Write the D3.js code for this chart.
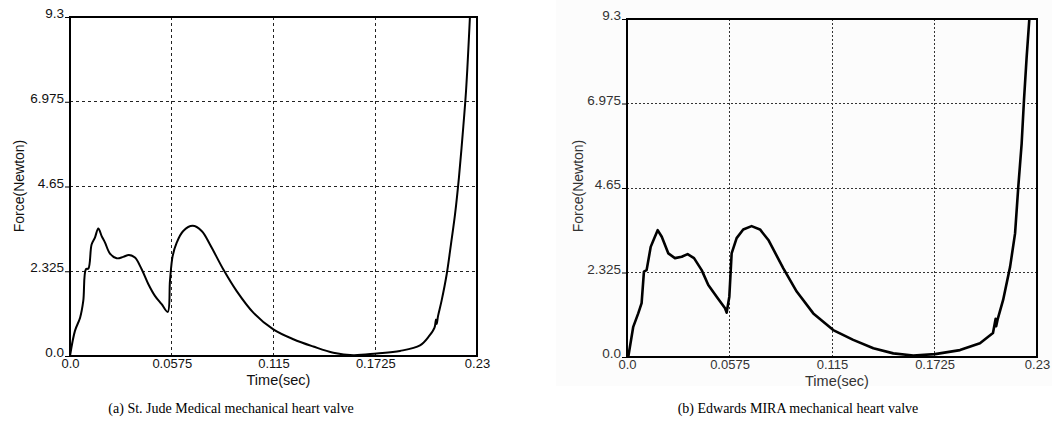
<!DOCTYPE html>
<html><head><meta charset="utf-8">
<script src="https://cdn.jsdelivr.net/npm/d3@7"></script>
<style>
html,body{margin:0;padding:0;background:#fff;}
svg{display:block;}
</style></head>
<body>
<svg id="c" width="1052" height="428"></svg>
<script>
const xTicks = [0, 0.0575, 0.115, 0.1725, 0.23];
const xTickLabels = ["0.0", "0.0575", "0.115", "0.1725", "0.23"];
const yTicks = [0, 2.325, 4.65, 6.975, 9.3];
const yTickLabels = ["0.0", "2.325", "4.65", "6.975", "9.3"];

const timeA = [0,0.0028,0.0057,0.0075,0.0090,0.0104,0.0122,0.0141,0.0160,0.0179,0.0198,0.0226,0.0264,0.0301,0.0333,0.0367,0.0405,0.0443,0.0480,0.0518,0.0552,0.0565,0.0580,0.0603,0.0640,0.0693,0.0744,0.0791,0.0866,0.0942,0.1036,0.1149,0.1262,0.1375,0.1488,0.1601,0.1733,0.1865,0.1978,0.2030,0.2060,0.2068,0.2072,0.2080,0.2100,0.2129,0.2153,0.2176,0.2198,0.2219,0.2238,0.2260];
const forceA = [0,0.69,1.05,1.51,2.38,2.40,3.06,3.25,3.50,3.29,3.11,2.81,2.68,2.72,2.77,2.70,2.38,1.97,1.65,1.42,1.21,2.06,2.74,3.11,3.43,3.57,3.43,3.06,2.38,1.78,1.19,0.73,0.46,0.26,0.09,0.02,0.07,0.14,0.29,0.55,0.78,1.00,0.88,1.10,1.52,2.25,3.07,3.89,4.90,6.08,7.27,9.30];

const timeB = [0.0007,0.0035,0.0063,0.0082,0.0095,0.0110,0.0133,0.0153,0.0172,0.0195,0.0232,0.0269,0.0307,0.0340,0.0376,0.0419,0.0456,0.0503,0.0550,0.0559,0.0574,0.0587,0.0615,0.0652,0.0699,0.0746,0.0793,0.0877,0.0952,0.1045,0.1157,0.1269,0.1382,0.1494,0.1606,0.1728,0.1868,0.1980,0.2053,0.2068,0.2071,0.2080,0.2110,0.2149,0.2177,0.2195,0.2214,0.2227,0.2242,0.2257];
const forceB = [0,0.83,1.20,1.48,2.35,2.39,3.03,3.27,3.49,3.31,2.85,2.72,2.76,2.83,2.72,2.39,1.98,1.66,1.34,1.22,1.66,2.85,3.27,3.51,3.60,3.51,3.22,2.44,1.80,1.20,0.74,0.47,0.24,0.10,0.04,0.08,0.19,0.38,0.66,1.05,0.85,1.05,1.57,2.48,3.40,4.68,5.88,7.07,8.26,9.30];

const captionA = "(a) St. Jude Medical mechanical heart valve";
const captionB = "(b) Edwards MIRA mechanical heart valve";

const svg = d3.select("#c");

// faint background of the right (scanned) panel
svg.append("rect").attr("x",556).attr("y",0).attr("width",496).attr("height",386).attr("fill","#fcfcfc");

function panel(cfg){
  const {x0,x1,y0,y1,time,force,grid,lw,labelColor,caption,capX,yLabX,id} = cfg;
  const x = d3.scaleLinear().domain([0,0.23]).range([x0,x1]);
  const y = d3.scaleLinear().domain([0,9.3]).range([y1,y0]);
  const g = svg.append("g");
  g.append("rect").attr("x",x0).attr("y",y0).attr("width",x1-x0).attr("height",y1-y0).attr("fill", cfg.bg);
  // grid
  g.selectAll(".hg").data(yTicks.slice(1,4)).join("line")
    .attr("x1",x0).attr("x2",x1).attr("y1",d=>y(d)).attr("y2",d=>y(d))
    .attr("stroke",cfg.gridColor).attr("stroke-width",1).attr("stroke-dasharray",grid).attr("shape-rendering","crispEdges");
  g.selectAll(".vg").data(xTicks.slice(1,4)).join("line")
    .attr("y1",y0).attr("y2",y1).attr("x1",d=>x(d)).attr("x2",d=>x(d))
    .attr("stroke",cfg.gridColor).attr("stroke-width",1).attr("stroke-dasharray",grid).attr("shape-rendering","crispEdges");
  // frame
  g.append("rect").attr("x",x0).attr("y",y0).attr("width",x1-x0).attr("height",y1-y0)
    .attr("fill","none").attr("stroke","#000").attr("stroke-width",1.2).attr("shape-rendering","crispEdges");
  // y axis ticks + labels
  const ya = d3.axisLeft(y).tickValues(yTicks).tickFormat((d,i)=>yTickLabels[i]).tickSize(5).tickPadding(1);
  const yg = g.append("g").attr("transform",`translate(${x0},0)`).call(ya);
  yg.select(".domain").remove();
  yg.selectAll("line").attr("stroke","#000");
  yg.selectAll("text").attr("font-family","Liberation Sans, Arial, sans-serif").attr("font-size","13.5px")
    .attr("fill",labelColor).attr("dy","0.05em");
  // x axis labels
  const xa = d3.axisBottom(x).tickValues(xTicks).tickFormat((d,i)=>xTickLabels[i]).tickSize(0).tickPadding(3);
  const xg = g.append("g").attr("transform",`translate(0,${y1})`).call(xa);
  xg.select(".domain").remove();
  xg.selectAll("text").attr("font-family","Liberation Sans, Arial, sans-serif").attr("font-size","13px")
    .attr("fill",labelColor).attr("dy","0.72em");
  // axis titles
  g.append("text").attr("x",(x0+x1)/2+5).attr("y",y1+29).attr("text-anchor","middle")
    .attr("font-family","Liberation Sans, Arial, sans-serif").attr("font-size","14.5px").attr("fill",labelColor).text("Time(sec)");
  g.append("text").attr("transform",`translate(${yLabX},186) rotate(-90)`).attr("text-anchor","middle")
    .attr("font-family","Liberation Sans, Arial, sans-serif").attr("font-size","14px").attr("fill",labelColor).text("Force(Newton)");
  // curve
  g.append("clipPath").attr("id",id).append("rect").attr("x",x0).attr("y",y0-1).attr("width",x1-x0).attr("height",y1-y0+2);
  const pts = time.map((t,i)=>[t,force[i]]);
  g.append("path").datum(pts).attr("clip-path",`url(#${id})`)
    .attr("d", d3.line().x(d=>x(d[0])).y(d=>y(d[1])).curve(cfg.curve))
    .attr("fill","none").attr("stroke","#000").attr("stroke-width",lw).attr("stroke-linejoin","round");
  // caption
  svg.append("text").attr("x",capX).attr("y",413).attr("text-anchor","middle")
    .attr("font-family","Liberation Serif, Times New Roman, serif").attr("font-size","14px").attr("fill","#000").text(caption);
}

panel({x0:70,x1:477,y0:17,y1:356,time:timeA,force:forceA,grid:"3,3",gridColor:"#222",lw:2,labelColor:"#111",
  caption:captionA,capX:231,yLabX:24,id:"clipA",bg:"#fff",curve:d3.curveCatmullRom.alpha(0.5)});
panel({x0:627,x1:1037,y0:19,y1:357,time:timeB,force:forceB,grid:"2,2",gridColor:"#333",lw:2.6,labelColor:"#333",
  caption:captionB,capX:798,yLabX:583,id:"clipB",bg:"#fcfcfc",curve:d3.curveLinear});
</script>
</body></html>
